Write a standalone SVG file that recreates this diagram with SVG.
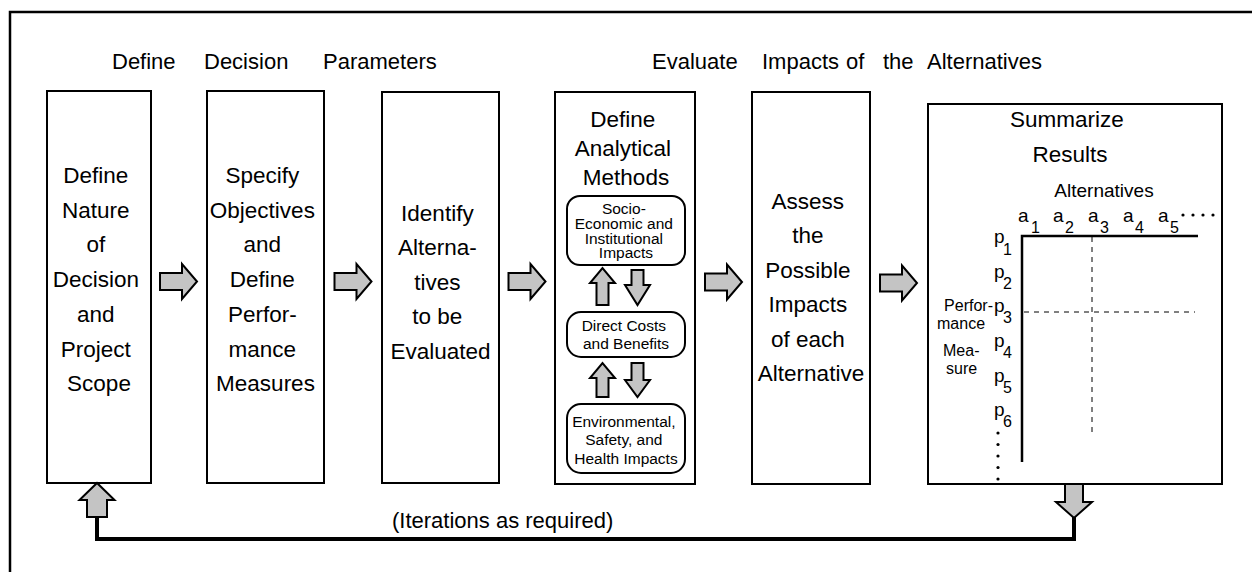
<svg xmlns="http://www.w3.org/2000/svg" width="1252" height="572" viewBox="0 0 1252 572">
  <defs>
    <style>
      text { font-family: "Liberation Sans", Arial, sans-serif; fill: #000; }
      .hd { font-size: 22px; }
      .bt { font-size: 22.5px; text-anchor: middle; }
      .st { font-size: 15.5px; text-anchor: middle; }
      .tb { font-size: 19px; }
      .sub { font-size: 16px; }
      .lab { font-size: 16px; }
      .box { fill: #fff; stroke: #000; stroke-width: 2; }
      .rbox { fill: #fff; stroke: #000; stroke-width: 2; }
      .arr { fill: #c4c4c4; stroke: #000; stroke-width: 2; stroke-linejoin: miter; }
      .loop { fill: none; stroke: #000; stroke-width: 4; }
      .axis { stroke: #000; stroke-width: 2.5; fill: none; }
      .dash { stroke: #000; stroke-width: 1; stroke-dasharray: 5 5; fill: none; }
    </style>
    <!-- block arrow pointing right, origin at tail centre -->
    <path id="arrowR" d="M0,-8.5 H22 V-17.5 L37,0 L22,17.5 V8.5 H0 Z"/>
  </defs>

  <rect width="1252" height="572" fill="#fff"/>

  <!-- outer frame (extends past the right and bottom edges) -->
  <path d="M10,580 V12 H1260" fill="none" stroke="#000" stroke-width="2.5"/>

  <!-- phase headings -->
  <g id="headings" class="hd">
    <text x="112" y="69">Define</text>
    <text x="204" y="69">Decision</text>
    <text x="323" y="69">Parameters</text>
    <text x="652" y="69">Evaluate</text>
    <text x="762" y="69">Impacts</text>
    <text x="846" y="69">of</text>
    <text x="883" y="69">the</text>
    <text x="927" y="69">Alternatives</text>
  </g>

  <g id="define-nature">
    <rect class="box" x="47" y="91" width="104" height="392"/>
    <text class="bt">
      <tspan x="99" y="183">Define</tspan>
      <tspan x="99" y="217.7">Nature</tspan>
      <tspan x="99" y="252.4">of</tspan>
      <tspan x="99" y="287.1">Decision</tspan>
      <tspan x="99" y="321.8">and</tspan>
      <tspan x="99" y="356.5">Project</tspan>
      <tspan x="99" y="391.2">Scope</tspan>
    </text>
  </g>

  <g id="specify-objectives">
    <rect class="box" x="207" y="91" width="117" height="392"/>
    <text class="bt">
      <tspan x="265.5" y="183">Specify</tspan>
      <tspan x="265.5" y="217.7">Objectives</tspan>
      <tspan x="265.5" y="252.4">and</tspan>
      <tspan x="265.5" y="287.1">Define</tspan>
      <tspan x="265.5" y="321.8">Perfor-</tspan>
      <tspan x="265.5" y="356.5">mance</tspan>
      <tspan x="265.5" y="391.2">Measures</tspan>
    </text>
  </g>

  <g id="identify-alternatives">
    <rect class="box" x="382" y="92" width="117" height="391"/>
    <text class="bt">
      <tspan x="440.5" y="221">Identify</tspan>
      <tspan x="440.5" y="255.4">Alterna-</tspan>
      <tspan x="440.5" y="289.8">tives</tspan>
      <tspan x="440.5" y="324.2">to be</tspan>
      <tspan x="440.5" y="358.6">Evaluated</tspan>
    </text>
  </g>

  <g id="analytical-methods">
    <rect class="box" x="555" y="92" width="140" height="392"/>
    <text class="bt">
      <tspan x="626" y="127">Define</tspan>
      <tspan x="626" y="156">Analytical</tspan>
      <tspan x="626" y="185">Methods</tspan>
    </text>
    <g id="socio-economic">
      <rect class="rbox" x="567" y="196" width="118" height="69" rx="13"/>
      <text class="st">
        <tspan x="626" y="214">Socio-</tspan>
        <tspan x="626" y="228.5">Economic and</tspan>
        <tspan x="626" y="243.5">Institutional</tspan>
        <tspan x="626" y="258">Impacts</tspan>
      </text>
    </g>
    <g id="direct-costs">
      <rect class="rbox" x="567" y="312" width="118" height="45" rx="14"/>
      <text class="st">
        <tspan x="626" y="331">Direct Costs</tspan>
        <tspan x="626" y="349">and Benefits</tspan>
      </text>
    </g>
    <g id="env-safety-health">
      <rect class="rbox" x="567" y="404" width="118" height="69" rx="14"/>
      <text class="st">
        <tspan x="626" y="427">Environmental,</tspan>
        <tspan x="626" y="445">Safety, and</tspan>
        <tspan x="626" y="464">Health Impacts</tspan>
      </text>
    </g>
  </g>

  <g id="assess-impacts">
    <rect class="box" x="752" y="92" width="118" height="392"/>
    <text class="bt">
      <tspan x="811" y="208.5">Assess</tspan>
      <tspan x="811" y="243">the</tspan>
      <tspan x="811" y="277.5">Possible</tspan>
      <tspan x="811" y="312">Impacts</tspan>
      <tspan x="811" y="346.5">of each</tspan>
      <tspan x="811" y="381">Alternative</tspan>
    </text>
  </g>

  <g id="summarize-results">
    <rect class="box" x="928" y="104" width="294" height="380"/>
    <text class="bt">
      <tspan x="1070" y="127">Summarize</tspan>
      <tspan x="1070" y="162">Results</tspan>
    </text>
    <text class="tb" x="1104" y="197" text-anchor="middle">Alternatives</text>
    <!-- column headings a1..a5 -->
    <text class="tb"><tspan x="1018" y="222">a</tspan><tspan class="sub" x="1031" y="233">1</tspan></text>
    <text class="tb"><tspan x="1053" y="222">a</tspan><tspan class="sub" x="1065" y="233">2</tspan></text>
    <text class="tb"><tspan x="1088" y="222">a</tspan><tspan class="sub" x="1100" y="233">3</tspan></text>
    <text class="tb"><tspan x="1123" y="222">a</tspan><tspan class="sub" x="1135" y="233">4</tspan></text>
    <text class="tb"><tspan x="1158" y="222">a</tspan><tspan class="sub" x="1170" y="233">5</tspan></text>
    <g fill="#000">
      <circle cx="1183" cy="215" r="1.6"/>
      <circle cx="1193" cy="215" r="1.6"/>
      <circle cx="1203" cy="215" r="1.6"/>
      <circle cx="1213" cy="215" r="1.6"/>
    </g>
    <!-- row headings p1..p6 -->
    <text class="tb"><tspan x="994" y="243">p</tspan><tspan class="sub" x="1003" y="255">1</tspan></text>
    <text class="tb"><tspan x="994" y="278">p</tspan><tspan class="sub" x="1003" y="289">2</tspan></text>
    <text class="tb"><tspan x="994" y="312">p</tspan><tspan class="sub" x="1003" y="323">3</tspan></text>
    <text class="tb"><tspan x="994" y="347">p</tspan><tspan class="sub" x="1003" y="358">4</tspan></text>
    <text class="tb"><tspan x="994" y="382">p</tspan><tspan class="sub" x="1003" y="393">5</tspan></text>
    <text class="tb"><tspan x="994" y="416">p</tspan><tspan class="sub" x="1003" y="427">6</tspan></text>
    <g fill="#000">
      <circle cx="998" cy="433" r="1.6"/>
      <circle cx="998" cy="444.5" r="1.6"/>
      <circle cx="998" cy="456" r="1.6"/>
      <circle cx="998" cy="467.5" r="1.6"/>
      <circle cx="998" cy="479" r="1.6"/>
    </g>
    <text class="lab" x="993" y="310.5" text-anchor="end">Perfor-</text>
    <text class="lab" x="937" y="329">mance</text>
    <text class="lab" x="943" y="355.5">Mea-</text>
    <text class="lab" x="946" y="374">sure</text>
    <!-- matrix axes and grid -->
    <path class="axis" d="M1022,462 V236 H1198"/>
    <path class="dash" d="M1092,237 V432"/>
    <path class="dash" d="M1024,312 H1195"/>
  </g>

  <g id="connectors">
    <!-- forward flow between stages -->
    <use href="#arrowR" class="arr" x="160" y="281.5"/>
    <use href="#arrowR" class="arr" x="334.5" y="281.5"/>
    <use href="#arrowR" class="arr" x="508.5" y="281.5"/>
    <use href="#arrowR" class="arr" x="705" y="282"/>
    <use href="#arrowR" class="arr" x="880" y="283"/>
    <!-- exchanges between the analytical method blocks -->
    <path class="arr" d="M596.5,305 V283 H590 L602.5,268 L615,283 H608.5 V305 Z"/>
    <path class="arr" d="M631.5,270 V285 H625 L637.5,305 L650,285 H643.5 V270 Z"/>
    <path class="arr" d="M596.5,397 V378 H590 L602.5,363 L615,378 H608.5 V397 Z"/>
    <path class="arr" d="M631.5,363 V380 H625 L637.5,397 L650,380 H643.5 V363 Z"/>
    <!-- iteration feedback loop -->
    <path class="loop" d="M97,516 V539 H1074 V517"/>
    <path class="arr" d="M1065,484 V502 H1056 L1074,518 L1092,502 H1083 V484 Z"/>
    <path class="arr" d="M87,517 V500 H79.5 L97,483 L114.5,500 H107 V517 Z"/>
    <text class="hd" x="392" y="528" font-size="22.5">(Iterations as required)</text>
  </g>
</svg>
